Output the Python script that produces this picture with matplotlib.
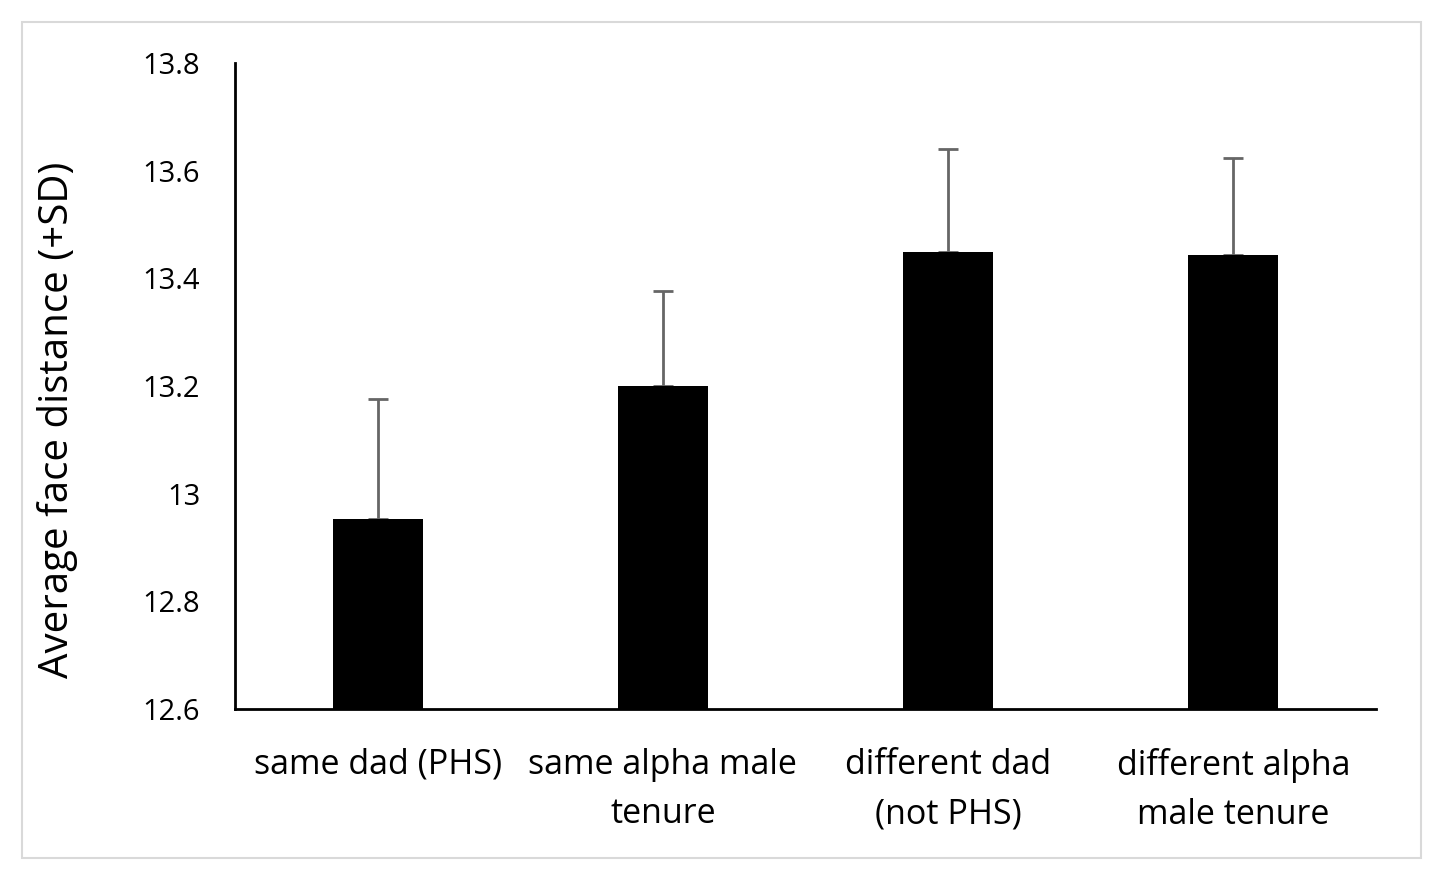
import matplotlib
matplotlib.use("Agg")
import matplotlib.pyplot as plt
from matplotlib.patches import Rectangle

categories = ["same dad (PHS)", "same alpha male\ntenure", "different dad\n(not PHS)", "different alpha\nmale tenure"]
means = [12.953, 13.2, 13.448, 13.443]
sds = [0.223, 0.176, 0.193, 0.181]
yticks = [12.6, 12.8, 13.0, 13.2, 13.4, 13.6, 13.8]
ytick_labels = ["12.6", "12.8", "13", "13.2", "13.4", "13.6", "13.8"]

plt.rcParams['font.family'] = ['Open Sans', 'DejaVu Sans']

fig = plt.figure(figsize=(14.44, 8.8), dpi=100)
fig.patches.append(Rectangle((22/1444, 1-858/880), (1421-22)/1444, (858-22)/880,
                             transform=fig.transFigure, fill=False, edgecolor='#d9d9d9', linewidth=1.5))

ax = fig.add_axes([235/1444, 1-709/880, (1376-235)/1444, (709-63)/880])
x = list(range(len(categories)))
ax.bar(x, means, width=0.315, color='black', zorder=2)
ax.errorbar(x, means, yerr=[[0]*4, sds], fmt='none', ecolor='#666666', elinewidth=2,
            capsize=7, capthick=2, zorder=1)
ax.set_xlim(-0.5, 3.5)
ax.set_ylim(12.6, 13.8)
ax.set_yticks(yticks)
ax.set_yticklabels(ytick_labels, fontsize=21)
ax.set_xticks(x)
ax.set_xticklabels(categories, fontsize=24.5, linespacing=1.6)
ax.tick_params(axis='both', length=0)
ax.tick_params(axis='y', pad=25)
ax.tick_params(axis='x', pad=28)
for s in ['top', 'right']:
    ax.spines[s].set_visible(False)
for s in ['left', 'bottom']:
    ax.spines[s].set_linewidth(2)
ax.set_ylabel("Average face distance (+SD)", fontsize=29)
ax.yaxis.set_label_coords(-0.138, 0.447)

fig.savefig("out.png", dpi=100)
